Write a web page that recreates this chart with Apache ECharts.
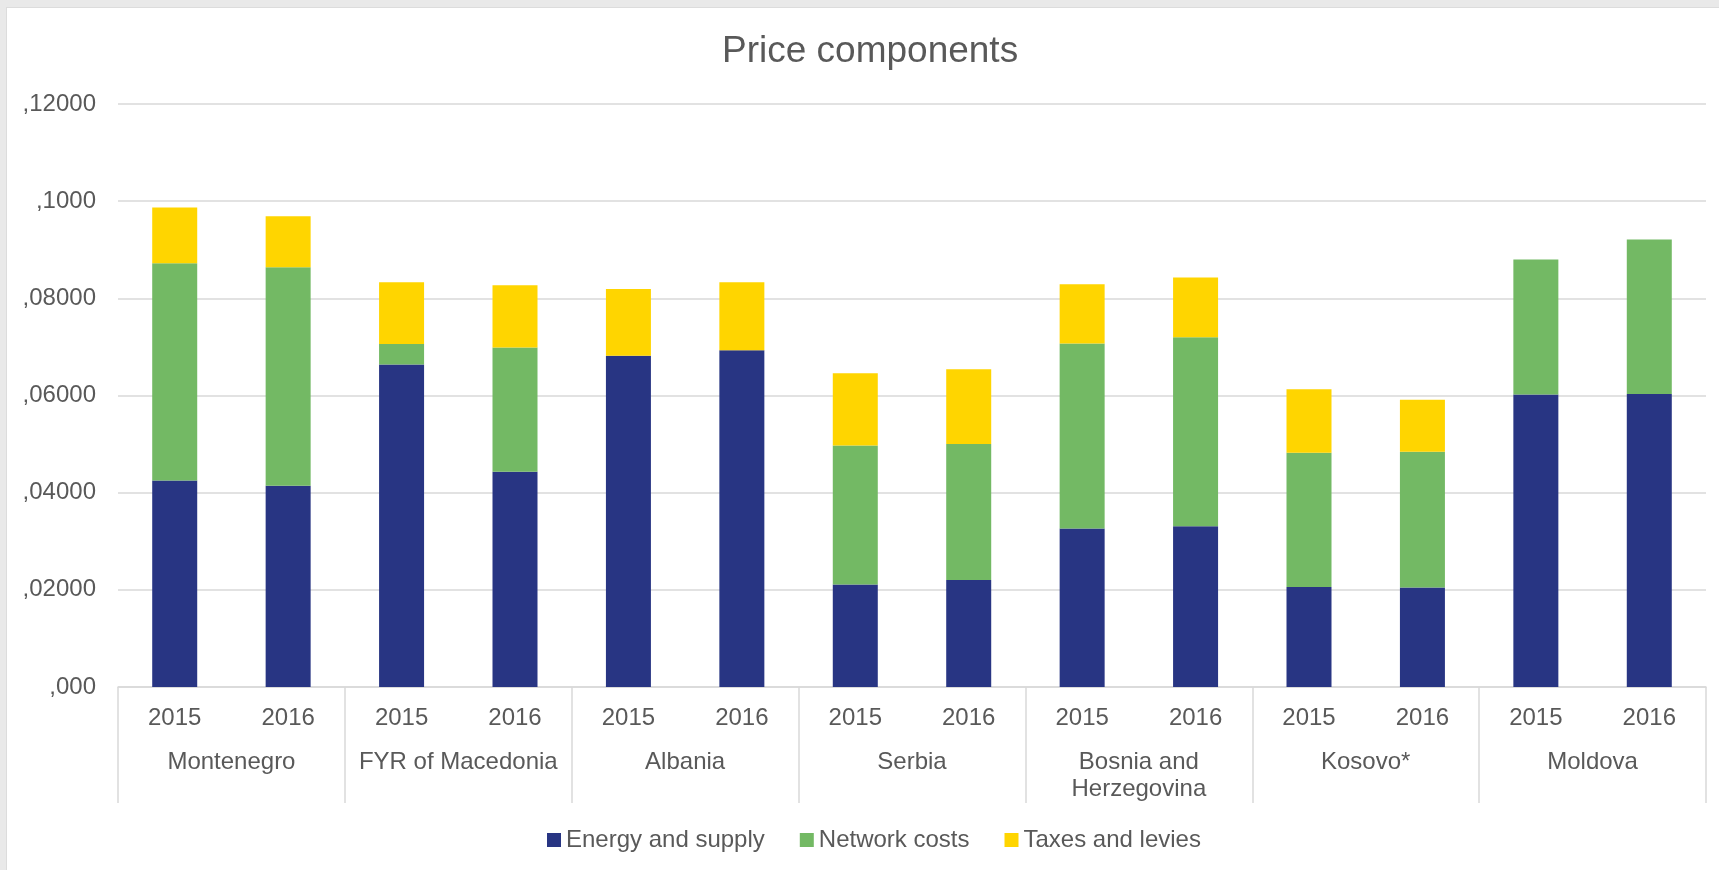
<!DOCTYPE html>
<html>
<head>
<meta charset="utf-8">
<title>Price components</title>
<script src="https://cdn.jsdelivr.net/npm/echarts@6/dist/echarts.min.js"></script>
<style>
  html, body {
    margin: 0;
    padding: 0;
    background: #e9e9e9;
  }
  #chart {
    position: absolute;
    left: 6px;
    top: 7px;
    width: 1713px;
    height: 863px;
    background: #fff;
    border-left: 1px solid #dcdcdc;
    border-top: 1px solid #dcdcdc;
  }
</style>
</head>
<body>
<div id="chart"></div>
<script>
// data
const countries = ["Montenegro", "FYR of Macedonia", "Albania", "Serbia", "Bosnia and\nHerzegovina", "Kosovo*", "Moldova"];
const years = ["2015", "2016", "2015", "2016", "2015", "2016", "2015", "2016", "2015", "2016", "2015", "2016", "2015", "2016"];
const energySupply = [0.0425, 0.0414, 0.0664, 0.0443, 0.0682, 0.0693, 0.0211, 0.0220, 0.0326, 0.0331, 0.0206, 0.0205, 0.0602, 0.0603];
const networkCosts = [0.0447, 0.0450, 0.0042, 0.0256, 0, 0, 0.0286, 0.0280, 0.0381, 0.0389, 0.0276, 0.0279, 0.0278, 0.0318];
const taxesLevies = [0.0115, 0.0105, 0.0127, 0.0128, 0.0137, 0.0140, 0.0149, 0.0154, 0.0122, 0.0123, 0.0131, 0.0107, 0, 0];
const yTickLabels = [",000", ",02000", ",04000", ",06000", ",08000", ",1000", ",12000"];

const textColor = "#595959";
const lineColor = "#d9d9d9";
const font = "'Liberation Sans', Arial, sans-serif";

let myChart = echarts.init(document.getElementById("chart"));

function bar(name, data, color) {
  return {
    name: name,
    type: "bar",
    stack: "total",
    barWidth: 45,
    xAxisIndex: 0,
    itemStyle: { color: color },
    data: data
  };
}

myChart.setOption({
  animation: false,
  textStyle: { fontFamily: font },
  title: {
    text: "Price components",
    left: 715,
    top: 25,
    padding: 0,
    textStyle: {
      color: textColor,
      fontSize: 37,
      fontWeight: "normal",
      fontFamily: font
    }
  },
  legend: {
    left: 540,
    top: 820,
    padding: 0,
    itemWidth: 14,
    itemHeight: 14,
    itemGap: 35,
    icon: "rect",
    textStyle: { color: textColor, fontSize: 24, fontFamily: font },
    data: ["Energy and supply", "Network costs", "Taxes and levies"]
  },
  grid: {
    left: 111,
    top: 96,
    width: 1588,
    height: 583
  },
  xAxis: [
    {
      type: "category",
      data: years,
      position: "bottom",
      axisLine: { show: true, lineStyle: { color: lineColor, width: 1.5 } },
      axisTick: { show: false },
      axisLabel: {
        color: textColor,
        fontSize: 24,
        margin: 19,
        interval: 0,
        fontFamily: font
      }
    },
    {
      type: "category",
      data: countries,
      position: "bottom",
      axisLine: { show: false },
      axisTick: {
        show: true,
        interval: 0,
        length: 116,
        lineStyle: { color: lineColor, width: 1.5 }
      },
      axisLabel: {
        color: textColor,
        fontSize: 24,
        lineHeight: 27,
        margin: 62,
        interval: 0,
        fontFamily: font
      }
    }
  ],
  yAxis: {
    type: "value",
    min: 0,
    max: 0.12,
    interval: 0.02,
    axisLine: { show: false },
    axisTick: { show: false },
    axisLabel: {
      color: textColor,
      fontSize: 24,
      margin: 22,
      padding: [4, 0, 0, 0],
      fontFamily: font,
      formatter: function (v) {
        return yTickLabels[Math.round(v / 0.02)];
      }
    },
    splitLine: { lineStyle: { color: lineColor, width: 1.5 } }
  },
  series: [
    bar("Energy and supply", energySupply, "#283583"),
    bar("Network costs", networkCosts, "#73b964"),
    bar("Taxes and levies", taxesLevies, "#ffd500")
  ]
});
</script>
</body>
</html>
